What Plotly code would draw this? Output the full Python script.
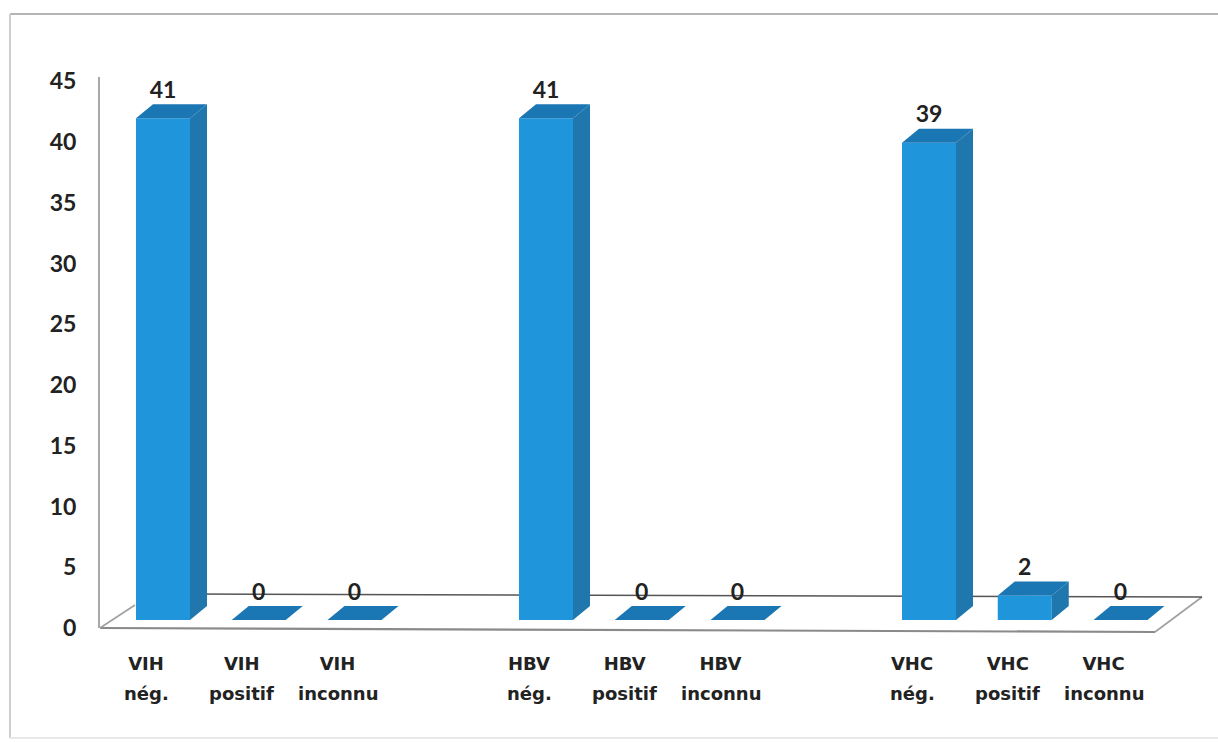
import plotly.graph_objects as go

# ---- data ----
slots = [0, 1, 2, 4, 5, 6, 8, 9, 10]
values = [41, 0, 0, 41, 0, 0, 39, 2, 0]
label_line1 = ["VIH", "VIH", "VIH", "HBV", "HBV", "HBV", "VHC", "VHC", "VHC"]
label_line2 = ["nég.", "positif", "inconnu", "nég.", "positif", "inconnu", "nég.", "positif", "inconnu"]
y_ticks = [0, 5, 10, 15, 20, 25, 30, 35, 40, 45]

# ---- geometry / style ----
W, H = 1218, 742
L, R, T, B = 100, 1205, 77, 628
PX_PER_SLOT = 95.75
X0 = 163
PX_PER_UNIT = 12.24      # bars
BASE_PX = 620
AX_PX_PER_UNIT = 12.15   # tick labels
BAR_W = 0.564
DX = 17 / PX_PER_SLOT
DY = 14 / PX_PER_UNIT
LABEL_DY = 26 / PX_PER_UNIT
LABEL_SHIFT = -17 / PX_PER_SLOT
FRONT, SIDE, TOP = "#1f95dc", "#1f77ae", "#1b76b4"
TEXT = "#222222"
LABEL_FONT = "DejaVu Sans"
NUM_FONT = "Lato"

xr = [(L - X0) / PX_PER_SLOT, (R - X0) / PX_PER_SLOT]
yr = [0, (B - T) / AX_PX_PER_UNIT]
y2r = [(BASE_PX - B) / PX_PER_UNIT, (BASE_PX - T) / PX_PER_UNIT]


def px_paper_x(px):
    return (px - L) / (R - L)


def px_paper_y(px):
    return (B - px) / (B - T)


fig = go.Figure()

# invisible trace keeps the value axis alive
fig.add_trace(go.Scatter(x=[slots[0]], y=[y_ticks[0]], mode="markers", marker=dict(opacity=0),
                         hoverinfo="skip"))

# front faces
fig.add_trace(go.Bar(x=slots, y=values, width=BAR_W, yaxis="y2",
                     marker=dict(color=FRONT, line=dict(width=0)), hoverinfo="skip"))

# side and top faces derived from the values
sx, sy, tx, ty = [], [], [], []
for s, v in zip(slots, values):
    l, r = s - BAR_W / 2, s + BAR_W / 2
    if v > 0:
        sx += [r, r + DX, r + DX, r, r, None]
        sy += [0, DY, v + DY, v, 0, None]
    tx += [l, r, r + DX, l + DX, l, None]
    ty += [v, v, v + DY, v + DY, v, None]
for xs, ys, c in ((sx, sy, SIDE), (tx, ty, TOP)):
    fig.add_trace(go.Scatter(x=xs, y=ys, yaxis="y2", mode="lines", fill="toself",
                             fillcolor=c, line=dict(width=0), hoverinfo="skip"))

# data labels
fig.add_trace(go.Scatter(x=slots, y=[v + LABEL_DY for v in values], yaxis="y2", mode="text",
                         text=[str(v) for v in values], textposition="middle center",
                         textfont=dict(family=NUM_FONT, size=23, color=TEXT, weight=700),
                         hoverinfo="skip", cliponaxis=False))


def seg(a, b, color, width, layer="below"):
    return dict(type="line", xref="paper", yref="paper", layer=layer,
                x0=px_paper_x(a[0]), y0=px_paper_y(a[1]),
                x1=px_paper_x(b[0]), y1=px_paper_y(b[1]),
                line=dict(color=color, width=width))


shapes = [
    seg((100, 628), (1155, 632), "#8a8a8a", 2.2),
    seg((1155, 632), (1202, 597), "#a0a0a0", 1.6),
    seg((100, 628), (135, 605), "#a0a0a0", 1.6),
    seg((190, 594), (1202, 597), "#555555", 1.6),
    # page frame
    seg((10, 14), (W, 14), "#b4b4b4", 2),
    seg((10, 14), (10, 738), "#cfcfcf", 2),
    seg((10, 738), (W, 738), "#e8e8e8", 2),
]

annotations = [dict(x=s + LABEL_SHIFT, y=px_paper_y(693), xref="x", yref="paper",
                    text=t, showarrow=False, yanchor="middle", xanchor="center",
                    font=dict(family=LABEL_FONT, size=18, color=TEXT, weight="bold"))
               for s, t in zip(slots, label_line2)]

fig.update_layout(
    width=W, height=H, showlegend=False, paper_bgcolor="white", plot_bgcolor="rgba(0,0,0,0)",
    margin=dict(l=L, r=W - R, t=T, b=H - B, pad=0),
    shapes=shapes, annotations=annotations,
    xaxis=dict(range=xr, tickmode="array", tickvals=[s + LABEL_SHIFT for s in slots],
               ticktext=label_line1, showgrid=False, zeroline=False, showline=False,
               ticks="", ticklabelstandoff=23,
               tickfont=dict(family=LABEL_FONT, size=18, color=TEXT, weight="bold")),
    yaxis=dict(range=yr, tickmode="array", tickvals=y_ticks, showgrid=False, zeroline=False,
               showline=True, linecolor="#a8a8a8", linewidth=2, ticks="",
               ticklabelstandoff=17,
               tickfont=dict(family=NUM_FONT, size=23, color=TEXT, weight=700)),
    yaxis2=dict(range=y2r, overlaying="y", side="left", visible=False),
)

fig.write_html("out.html", config={"displayModeBar": False},
               post_script="document.body.style.margin='0';")
